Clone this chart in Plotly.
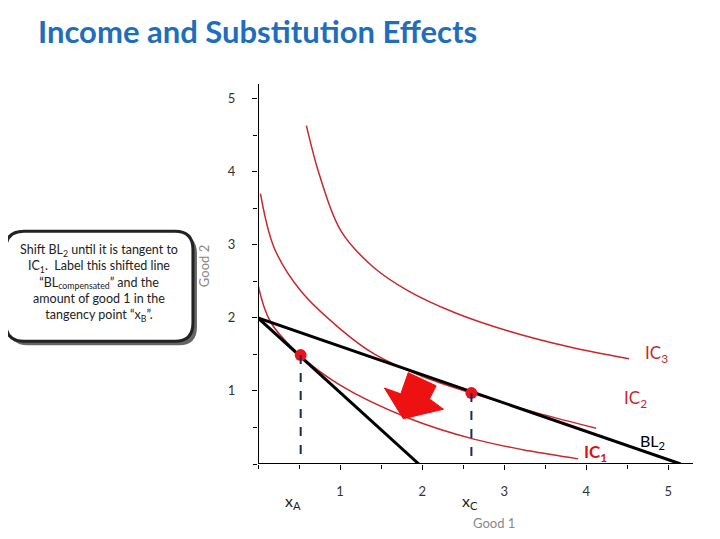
import plotly.graph_objects as go

ic1_x = [0.0, 0.15, 0.52, 1.0, 1.83, 2.63, 3.3, 3.9]
ic1_y = [2.45, 1.95, 1.48, 1.08, 0.63, 0.34, 0.18, 0.07]
ic2_x = [0.03, 0.2, 0.52, 1.0, 1.41, 2.0, 2.63, 3.4, 4.12]
ic2_y = [3.7, 2.95, 2.37, 1.85, 1.51, 1.2, 0.96, 0.7, 0.49]
ic3_x = [0.59, 0.75, 1.01, 1.4, 1.83, 2.4, 3.05, 3.8, 4.52]
ic3_y = [4.63, 3.95, 3.19, 2.7, 2.37, 2.07, 1.82, 1.6, 1.44]
bl1_x = [0.0, 1.96]
bl1_y = [2.0, 0.0]
bl2_x = [0.0, 5.15]
bl2_y = [2.0, 0.0]
pts_x = [0.52, 2.6]
pts_y = [1.49, 0.97]
arrow_x = [1.83, 2.17, 2.09, 2.26, 1.77, 1.54, 1.74]
arrow_y = [1.25, 1.07, 0.89, 0.75, 0.62, 1.04, 0.96]

W, H = 720, 539
OX, OY = 7, 7
L, T = 250, 76
PW, PH = 434.6, 379.6
R = W - L - PW
B = H - T - PH
XR = [0, 5.3]; YR = [0, 5.2]
def px(x): return (x - OX - L) / PW
def py(y): return (H - B - (y - OY)) / PH

red = "#c8282d"
fig = go.Figure()
for xs, ys in [(ic1_x, ic1_y), (ic2_x, ic2_y), (ic3_x, ic3_y)]:
    fig.add_trace(go.Scatter(x=xs, y=ys, mode="lines", line=dict(color=red, width=1.5, shape="spline")))
for xs, ys in [(bl1_x, bl1_y), (bl2_x, bl2_y)]:
    fig.add_trace(go.Scatter(x=xs, y=ys, mode="lines", line=dict(color="black", width=3)))
fig.add_trace(go.Scatter(x=arrow_x + arrow_x[:1], y=arrow_y + arrow_y[:1], mode="lines", fill="toself",
                         fillcolor="#ee1111", line=dict(color="#ee1111", width=1)))
for xv, yv in zip(pts_x, pts_y):
    fig.add_shape(type="line", x0=xv, x1=xv, y0=yv, y1=-0.3, line=dict(color="#1a2a5a", width=2, dash="dash"))
fig.add_trace(go.Scatter(x=pts_x, y=pts_y, mode="markers", marker=dict(color="#e8141b", size=12), cliponaxis=False))

fig.add_shape(type="line", xref="x", yref="y", x0=0, x1=0, y0=0, y1=5.3, line=dict(color="black", width=2))
fig.add_shape(type="line", xref="x", yref="y", x0=0, x1=5.3, y0=0, y1=0, line=dict(color="black", width=2))

def rounded(x0, y0, x1, y1, r):
    return (f"M {px(x0+r)},{py(y0)} L {px(x1-r)},{py(y0)} Q {px(x1)},{py(y0)} {px(x1)},{py(y0+r)} "
            f"L {px(x1)},{py(y1-r)} Q {px(x1)},{py(y1)} {px(x1-r)},{py(y1)} "
            f"L {px(x0+r)},{py(y1)} Q {px(x0)},{py(y1)} {px(x0)},{py(y1-r)} "
            f"L {px(x0)},{py(y0+r)} Q {px(x0)},{py(y0)} {px(x0+r)},{py(y0)} Z")

fig.add_shape(type="path", xref="paper", yref="paper", path=rounded(9, 234, 196, 344, 18),
              line=dict(width=0), fillcolor="#666666")
fig.add_shape(type="path", xref="paper", yref="paper", path=rounded(5, 230, 192, 340, 18),
              line=dict(color="#222222", width=3), fillcolor="white")

def ann(x, y, text, font, **kw):
    d = dict(xref="paper", yref="paper", x=px(x), y=py(y), showarrow=False, text=text, font=font,
             xanchor="center", yanchor="middle")
    d.update(kw)
    fig.add_annotation(**d)

ann(98, 282, "Shift BL<sub>2</sub> until it is tangent to<br>IC<sub>1</sub>.  Label this shifted line<br>\u201cBL<sub>compensated</sub>\u201d and the<br>amount of good 1 in the<br>tangency point \u201cx<sub>B</sub>\u201d.",
    dict(family="Lato", size=12.5, color="#222"), align="center")
ann(35, 30, "<b>Income and Substitution Effects</b>", dict(family="Lato", size=31, color="#1f6dbd"), xanchor="left")
ann(655, 353, "IC<sub>3</sub>", dict(family="Lato", size=17, color=red))
ann(634, 398, "IC<sub>2</sub>", dict(family="Lato", size=17, color=red))
ann(594, 452, "<b>IC<sub>1</sub></b>", dict(family="Lato", size=17, color="#e01010"))
ann(651, 440, "BL<sub>2</sub>", dict(family="Lato", size=16, color="black"))
ann(292, 500, "x<sub>A</sub>", dict(family="Lato", size=16, color="#222"))
ann(469, 500, "x<sub>C</sub>", dict(family="Lato", size=16, color="#222"))
ann(493, 522, "Good 1", dict(family="Lato", size=13, color="#888"))
ann(203, 265, "Good 2", dict(family="Lato", size=13, color="#888"), textangle=-90)

fig.update_layout(width=W, height=H, margin=dict(l=L, r=R, t=T, b=B, autoexpand=False), showlegend=False,
                  plot_bgcolor="white", paper_bgcolor="white")
fig.update_xaxes(range=XR, tickvals=[1, 2, 3, 4, 5], showgrid=False, zeroline=False, ticks="outside", ticklen=5,
                 tickcolor="black", minor=dict(dtick=0.5, ticks="outside", ticklen=4, tickcolor="black"),
                 tickfont=dict(family="Lato", size=13, color="#333"), automargin=False, ticklabelstandoff=10)
fig.update_yaxes(range=YR, tickvals=[1, 2, 3, 4, 5], showgrid=False, zeroline=False, ticks="outside", ticklen=5,
                 tickcolor="black", minor=dict(dtick=0.5, ticks="outside", ticklen=4, tickcolor="black"),
                 tickfont=dict(family="Lato", size=13, color="#333"), ticklabelstandoff=14, automargin=False)
fig.write_html("out.html")
